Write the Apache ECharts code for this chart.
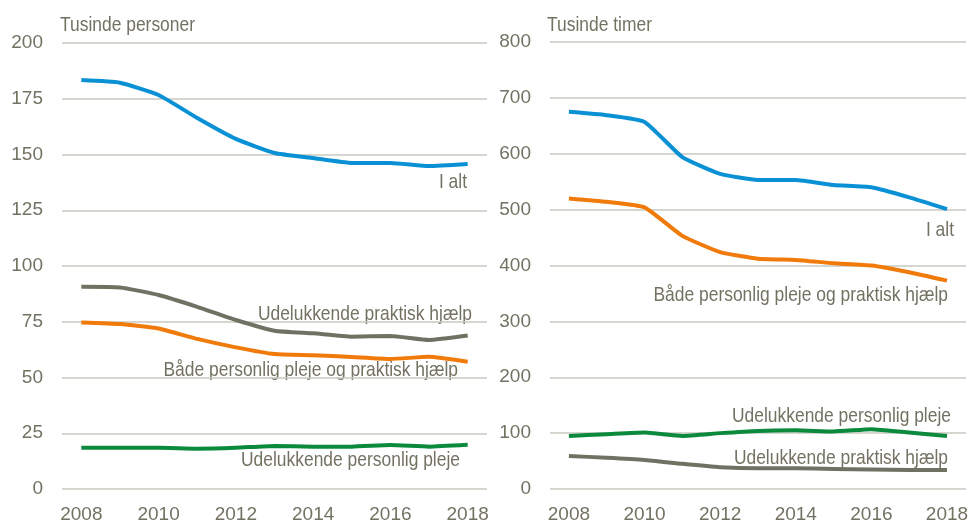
<!DOCTYPE html>
<html>
<head>
<meta charset="utf-8">
<script src="https://cdn.jsdelivr.net/npm/echarts@6/dist/echarts.min.js"></script>
<style>
html, body { margin: 0; padding: 0; background: #fff; }
#chart { width: 971px; height: 525px; }
</style>
</head>
<body>
<div id="chart"></div>
<script>
// år
var years = ['2008', '2009', '2010', '2011', '2012', '2013', '2014', '2015', '2016', '2017', '2018'];

// venstre: tusinde personer
var personerIalt = [183.4, 182.2, 176.7, 166.4, 157.0, 150.7, 148.4, 146.2, 146.2, 144.8, 145.7];
var personerPraktisk = [90.7, 90.4, 87.0, 81.7, 75.8, 71.0, 69.8, 68.3, 68.6, 66.8, 68.8];
var personerBegge = [74.7, 74.0, 72.0, 67.3, 63.5, 60.5, 60.0, 59.2, 58.3, 59.3, 57.1];
var personerPleje = [18.5, 18.5, 18.5, 18.1, 18.5, 19.3, 19.0, 19.0, 19.7, 19.0, 19.8];

// højre: tusinde timer
var timerIalt = [675, 669, 657, 594, 564, 553, 553, 544, 540, 522, 501];
var timerBegge = [520, 514, 504, 453, 424, 412, 410, 404, 400, 388, 373];
var timerPleje = [95, 98, 101, 95, 100, 104, 105, 103, 107, 101, 95];
var timerPraktisk = [59, 56, 52, 45, 39, 37, 37, 36, 35, 34, 34];

var FONT = "'Liberation Sans', Arial, sans-serif";
var TXT = '#737262';
var C_BLUE = '#0a91d5';
var C_ORANGE = '#f07a0a';
var C_GRAY = '#717163';
var C_GREEN = '#0b8a3e';
var NARROW = 0.83; // referencen bruger en smal skrift

function xAxis(idx) {
	return {
		type: 'category',
		gridIndex: idx,
		data: years,
		boundaryGap: true,
		axisLine: { show: false },
		axisTick: { show: false },
		axisLabel: { interval: 1, color: TXT, fontFamily: FONT, fontSize: 19, margin: 16 }
	};
}
function yAxis(idx, max, step) {
	return {
		type: 'value',
		gridIndex: idx,
		min: 0,
		max: max,
		interval: step,
		axisLine: { show: false },
		axisTick: { show: false },
		axisLabel: { color: TXT, fontFamily: FONT, fontSize: 19, margin: 19 },
		splitLine: { lineStyle: { color: '#c9c9c1', width: 1.5 } }
	};
}
function line(name, xi, data, color) {
	return {
		name: name,
		type: 'line',
		xAxisIndex: xi,
		yAxisIndex: xi,
		data: data,
		smooth: 0.15,
		symbol: 'none',
		lineStyle: { color: color, width: 4 },
		itemStyle: { color: color }
	};
}
// tekst med smal skalering; align bestemmer ankerpunkt
function label(text, x, y, align) {
	return {
		type: 'text',
		x: x,
		y: y,
		scaleX: NARROW,
		style: { text: text, fill: TXT, font: '21px ' + FONT, align: align || 'right', verticalAlign: 'middle' }
	};
}

var chart = echarts.init(document.getElementById('chart'));
chart.setOption({
	animation: false,
	grid: [
		{ left: 62, right: 971 - 487, top: 43, bottom: 525 - 489 },
		{ left: 550, right: 2, top: 42, bottom: 525 - 489 }
	],
	xAxis: [xAxis(0), xAxis(1)],
	yAxis: [yAxis(0, 200, 25), yAxis(1, 800, 100)],
	series: [
		line('I alt', 0, personerIalt, C_BLUE),
		line('Udelukkende praktisk hjælp', 0, personerPraktisk, C_GRAY),
		line('Både personlig pleje og praktisk hjælp', 0, personerBegge, C_ORANGE),
		line('Udelukkende personlig pleje', 0, personerPleje, C_GREEN),
		line('I alt', 1, timerIalt, C_BLUE),
		line('Både personlig pleje og praktisk hjælp', 1, timerBegge, C_ORANGE),
		line('Udelukkende personlig pleje', 1, timerPleje, C_GREEN),
		line('Udelukkende praktisk hjælp', 1, timerPraktisk, C_GRAY)
	],
	graphic: [
		label('Tusinde personer', 60, 25, 'left'),
		label('Tusinde timer', 547, 25, 'left'),
		label('I alt', 467, 182),
		label('Udelukkende praktisk hjælp', 472, 314),
		label('Både personlig pleje og praktisk hjælp', 458, 370),
		label('Udelukkende personlig pleje', 460, 460),
		label('I alt', 954, 230),
		label('Både personlig pleje og praktisk hjælp', 948, 295),
		label('Udelukkende personlig pleje', 951, 416),
		label('Udelukkende praktisk hjælp', 948, 458)
	]
});
</script>
</body>
</html>
